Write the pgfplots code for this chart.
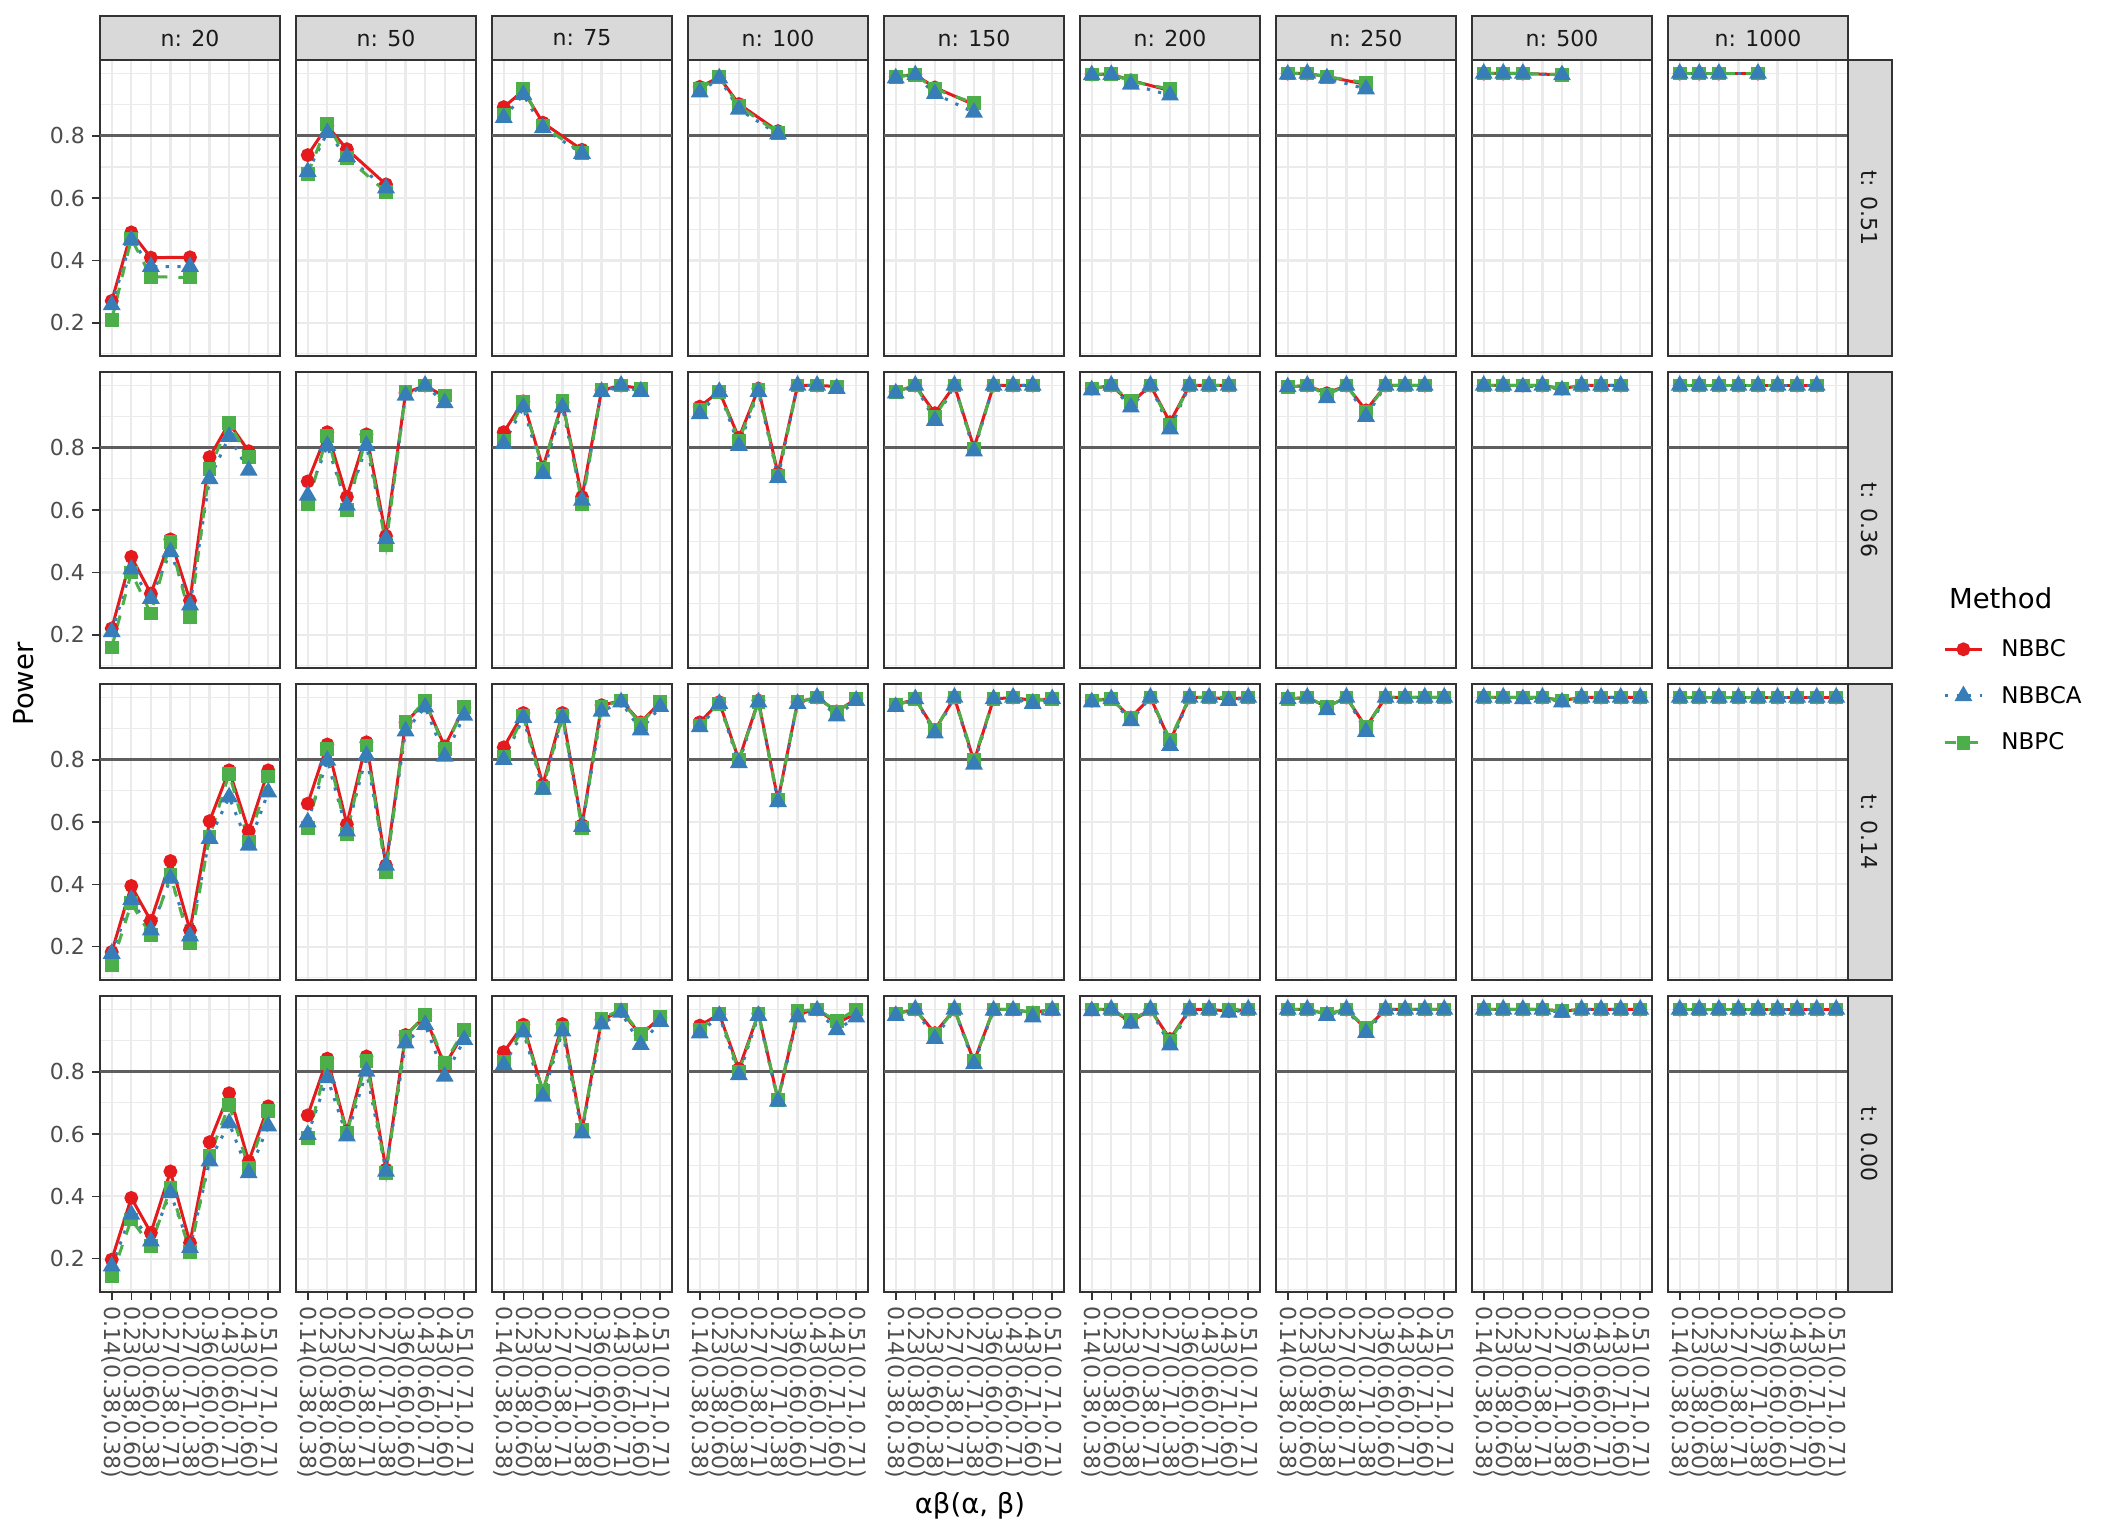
\documentclass[border=0pt]{standalone}
\usepackage{fontspec}
\setmainfont{DejaVu Sans}
\usepackage{pgfplots}
\usepackage{pgfplotstable}
\pgfplotsset{compat=1.18}
\usepgfplotslibrary{groupplots}

\definecolor{cA}{HTML}{E41A1C}
\definecolor{cB}{HTML}{377EB8}
\definecolor{cC}{HTML}{4DAF4A}
\definecolor{gridc}{HTML}{EBEBEB}
\definecolor{gray20}{HTML}{333333}
\definecolor{gray30}{HTML}{4D4D4D}
\definecolor{gray10}{HTML}{1A1A1A}
\definecolor{stripc}{HTML}{D9D9D9}
\definecolor{hlc}{HTML}{5E5E5E}

% columns: x = design index, a = NBBC, b = NBBCA, c = NBPC
% row A: t = 0.51
\pgfplotstableread{
x a b c
1 0.270 0.257 0.209
2 0.490 0.466 0.470
3 0.409 0.380 0.348
5 0.410 0.380 0.345
}\tAa
\pgfplotstableread{
x a b c
1 0.738 0.685 0.677
2 0.832 0.810 0.837
3 0.757 0.733 0.730
5 0.644 0.632 0.620
}\tAb
\pgfplotstableread{
x a b c
1 0.892 0.858 0.868
2 0.945 0.932 0.952
3 0.842 0.825 0.832
5 0.755 0.743 0.745
}\tAc
\pgfplotstableread{
x a b c
1 0.957 0.940 0.950
2 0.988 0.985 0.990
3 0.902 0.885 0.895
5 0.815 0.805 0.810
}\tAd
\pgfplotstableread{
x a b c
1 0.990 0.985 0.990
2 0.996 0.995 0.996
3 0.955 0.935 0.950
5 0.900 0.875 0.905
}\tAe
\pgfplotstableread{
x a b c
1 0.997 0.995 0.997
2 0.998 0.996 0.999
3 0.978 0.965 0.975
5 0.945 0.930 0.950
}\tAf
\pgfplotstableread{
x a b c
1 1.000 0.997 1.000
2 1.000 1.000 1.000
3 0.990 0.985 0.990
5 0.965 0.950 0.970
}\tAg
\pgfplotstableread{
x a b c
1 1.000 1.000 1.000
2 1.000 1.000 1.000
3 1.000 1.000 1.000
5 0.996 0.995 0.996
}\tAh
\pgfplotstableread{
x a b c
1 1.000 1.000 1.000
2 1.000 1.000 1.000
3 1.000 1.000 1.000
5 1.000 1.000 1.000
}\tAi
% row B: t = 0.36
\pgfplotstableread{
x a b c
1 0.220 0.209 0.159
2 0.450 0.410 0.400
3 0.332 0.316 0.268
4 0.506 0.466 0.497
5 0.310 0.295 0.257
6 0.770 0.700 0.733
7 0.879 0.836 0.879
8 0.789 0.727 0.770
}\tBa
\pgfplotstableread{
x a b c
1 0.692 0.647 0.620
2 0.850 0.807 0.839
3 0.642 0.615 0.600
4 0.843 0.807 0.836
5 0.517 0.508 0.487
6 0.976 0.968 0.978
7 1.000 1.000 1.000
8 0.964 0.944 0.968
}\tBb
\pgfplotstableread{
x a b c
1 0.850 0.813 0.823
2 0.949 0.930 0.946
3 0.736 0.717 0.733
4 0.946 0.930 0.950
5 0.642 0.631 0.620
6 0.985 0.980 0.985
7 1.000 1.000 1.000
8 0.990 0.980 0.990
}\tBc
\pgfplotstableread{
x a b c
1 0.932 0.909 0.920
2 0.981 0.980 0.980
3 0.832 0.807 0.823
4 0.990 0.980 0.985
5 0.717 0.704 0.710
6 1.000 1.000 1.000
7 1.000 1.000 1.000
8 0.997 0.990 0.997
}\tBd
\pgfplotstableread{
x a b c
1 0.980 0.975 0.980
2 1.000 1.000 1.000
3 0.911 0.887 0.900
4 1.000 1.000 1.000
5 0.800 0.789 0.795
6 1.000 1.000 1.000
7 1.000 1.000 1.000
8 1.000 1.000 1.000
}\tBe
\pgfplotstableread{
x a b c
1 0.990 0.985 0.990
2 1.000 1.000 1.000
3 0.943 0.930 0.950
4 1.000 1.000 1.000
5 0.882 0.860 0.875
6 1.000 1.000 1.000
7 1.000 1.000 1.000
8 1.000 1.000 1.000
}\tBf
\pgfplotstableread{
x a b c
1 0.995 0.995 0.995
2 1.000 1.000 1.000
3 0.975 0.960 0.970
4 1.000 1.000 1.000
5 0.920 0.900 0.915
6 1.000 1.000 1.000
7 1.000 1.000 1.000
8 1.000 1.000 1.000
}\tBg
\pgfplotstableread{
x a b c
1 1.000 1.000 1.000
2 1.000 1.000 1.000
3 1.000 0.995 1.000
4 1.000 1.000 1.000
5 0.990 0.985 0.990
6 1.000 1.000 1.000
7 1.000 1.000 1.000
8 1.000 1.000 1.000
}\tBh
\pgfplotstableread{
x a b c
1 1.000 1.000 1.000
2 1.000 1.000 1.000
3 1.000 1.000 1.000
4 1.000 1.000 1.000
5 1.000 1.000 1.000
6 1.000 1.000 1.000
7 1.000 1.000 1.000
8 1.000 1.000 1.000
}\tBi
% row C: t = 0.14
\pgfplotstableread{
x a b c
1 0.183 0.178 0.141
2 0.395 0.351 0.339
3 0.283 0.253 0.237
4 0.475 0.419 0.429
5 0.253 0.234 0.212
6 0.603 0.547 0.552
7 0.766 0.680 0.755
8 0.571 0.525 0.536
9 0.766 0.696 0.746
}\tCa
\pgfplotstableread{
x a b c
1 0.659 0.600 0.582
2 0.849 0.798 0.835
3 0.593 0.571 0.563
4 0.856 0.814 0.846
5 0.461 0.461 0.440
6 0.920 0.892 0.920
7 0.985 0.969 0.990
8 0.843 0.811 0.835
9 0.967 0.942 0.970
}\tCb
\pgfplotstableread{
x a b c
1 0.840 0.800 0.810
2 0.950 0.935 0.940
3 0.720 0.705 0.710
4 0.950 0.935 0.940
5 0.590 0.585 0.580
6 0.975 0.955 0.970
7 0.990 0.985 0.990
8 0.920 0.895 0.915
9 0.985 0.970 0.985
}\tCc
\pgfplotstableread{
x a b c
1 0.920 0.905 0.910
2 0.985 0.980 0.980
3 0.800 0.790 0.800
4 0.990 0.985 0.985
5 0.670 0.665 0.670
6 0.985 0.980 0.985
7 1.000 1.000 1.000
8 0.955 0.940 0.955
9 0.995 0.990 0.995
}\tCd
\pgfplotstableread{
x a b c
1 0.975 0.970 0.975
2 0.995 0.995 0.995
3 0.895 0.885 0.895
4 1.000 1.000 1.000
5 0.795 0.785 0.800
6 0.995 0.995 0.995
7 1.000 1.000 1.000
8 0.990 0.980 0.990
9 0.995 0.995 0.995
}\tCe
\pgfplotstableread{
x a b c
1 0.990 0.985 0.990
2 0.995 0.995 0.995
3 0.935 0.925 0.935
4 1.000 1.000 1.000
5 0.860 0.845 0.865
6 1.000 1.000 1.000
7 1.000 1.000 1.000
8 0.995 0.990 1.000
9 1.000 1.000 1.000
}\tCf
\pgfplotstableread{
x a b c
1 0.995 0.995 0.995
2 1.000 1.000 1.000
3 0.970 0.960 0.970
4 1.000 1.000 1.000
5 0.905 0.890 0.905
6 1.000 1.000 1.000
7 1.000 1.000 1.000
8 1.000 1.000 1.000
9 1.000 1.000 1.000
}\tCg
\pgfplotstableread{
x a b c
1 1.000 1.000 1.000
2 1.000 1.000 1.000
3 1.000 0.995 1.000
4 1.000 1.000 1.000
5 0.990 0.985 0.990
6 1.000 1.000 1.000
7 1.000 1.000 1.000
8 1.000 1.000 1.000
9 1.000 1.000 1.000
}\tCh
\pgfplotstableread{
x a b c
1 1.000 1.000 1.000
2 1.000 1.000 1.000
3 1.000 1.000 1.000
4 1.000 1.000 1.000
5 1.000 1.000 1.000
6 1.000 1.000 1.000
7 1.000 1.000 1.000
8 1.000 1.000 1.000
9 1.000 1.000 1.000
}\tCi
% row D: t = 0.00
\pgfplotstableread{
x a b c
1 0.197 0.176 0.144
2 0.395 0.342 0.326
3 0.283 0.256 0.240
4 0.480 0.411 0.427
5 0.251 0.235 0.222
6 0.574 0.513 0.529
7 0.731 0.635 0.694
8 0.512 0.475 0.491
9 0.689 0.625 0.673
}\tDa
\pgfplotstableread{
x a b c
1 0.660 0.598 0.587
2 0.842 0.780 0.828
3 0.609 0.593 0.603
4 0.849 0.801 0.835
5 0.486 0.480 0.475
6 0.918 0.892 0.913
7 0.977 0.951 0.983
8 0.820 0.785 0.828
9 0.927 0.903 0.934
}\tDb
\pgfplotstableread{
x a b c
1 0.863 0.822 0.833
2 0.951 0.927 0.940
3 0.737 0.721 0.737
4 0.953 0.930 0.940
5 0.614 0.603 0.614
6 0.967 0.953 0.970
7 0.995 0.990 1.000
8 0.918 0.887 0.920
9 0.974 0.961 0.977
}\tDc
\pgfplotstableread{
x a b c
1 0.948 0.924 0.935
2 0.985 0.980 0.987
3 0.809 0.790 0.800
4 0.987 0.980 0.987
5 0.710 0.705 0.710
6 0.985 0.975 0.995
7 1.000 0.997 1.000
8 0.956 0.934 0.963
9 0.987 0.975 1.000
}\tDd
\pgfplotstableread{
x a b c
1 0.987 0.980 0.985
2 1.000 1.000 1.000
3 0.924 0.906 0.920
4 1.000 1.000 1.000
5 0.833 0.825 0.835
6 1.000 0.997 1.000
7 1.000 0.997 1.000
8 0.990 0.975 0.990
9 1.000 0.997 1.000
}\tDe
\pgfplotstableread{
x a b c
1 1.000 0.995 1.000
2 1.000 1.000 1.000
3 0.960 0.955 0.965
4 1.000 1.000 1.000
5 0.905 0.885 0.900
6 1.000 1.000 1.000
7 1.000 1.000 1.000
8 0.995 0.990 1.000
9 1.000 1.000 1.000
}\tDf
\pgfplotstableread{
x a b c
1 1.000 1.000 1.000
2 1.000 1.000 1.000
3 0.985 0.980 0.985
4 1.000 1.000 1.000
5 0.937 0.925 0.940
6 1.000 1.000 1.000
7 1.000 1.000 1.000
8 1.000 1.000 1.000
9 1.000 1.000 1.000
}\tDg
\pgfplotstableread{
x a b c
1 1.000 1.000 1.000
2 1.000 1.000 1.000
3 1.000 1.000 1.000
4 1.000 1.000 1.000
5 0.995 0.990 0.995
6 1.000 1.000 1.000
7 1.000 1.000 1.000
8 1.000 1.000 1.000
9 1.000 1.000 1.000
}\tDh
\pgfplotstableread{
x a b c
1 1.000 1.000 1.000
2 1.000 1.000 1.000
3 1.000 1.000 1.000
4 1.000 1.000 1.000
5 1.000 1.000 1.000
6 1.000 1.000 1.000
7 1.000 1.000 1.000
8 1.000 1.000 1.000
9 1.000 1.000 1.000
}\tDi

\pgfplotsset{
  s1/.style={color=cA, line width=1.5pt, mark=*, mark size=2.7pt, mark options={solid}},
  s2/.style={color=cB, line width=1.5pt, dash pattern=on 1.6pt off 4.2pt, mark=triangle*, mark size=3.7pt, mark options={solid}},
  s3/.style={color=cC, line width=1.5pt, dash pattern=on 5.5pt off 5.5pt, mark=square*, mark size=2.7pt, mark options={solid}},
  bot/.style={xtick style={draw=gray20}},
  lft/.style={ytick style={draw=gray20}},
}

% one panel: reference line, the three lines, then the three sets of points
\newcommand{\three}[1]{%
  \addplot[forget plot, hlc, line width=1.3pt] coordinates {(0.4,0.8) (9.6,0.8)};
  \addplot[forget plot, s1, no marks] table[x=x, y=a] {#1};
  \addplot[forget plot, s2, no marks] table[x=x, y=b] {#1};
  \addplot[forget plot, s3, no marks] table[x=x, y=c] {#1};
  \addplot[forget plot, s1, only marks] table[x=x, y=a] {#1};
  \addplot[forget plot, s3, only marks] table[x=x, y=c] {#1};
  \addplot[forget plot, s2, only marks] table[x=x, y=b] {#1};
}
\newcommand{\nstrip}[1]{%
  \draw[fill=stripc, draw=gray20, line width=0.8pt] (rel axis cs:0,1) rectangle ([yshift=22pt]rel axis cs:1,1);
  \node[text=gray10, font=\fontsize{11}{13}\selectfont] at ([yshift=11pt]rel axis cs:0.5,1) {#1};
}
\newcommand{\tstrip}[1]{%
  \draw[fill=stripc, draw=gray20, line width=0.8pt] (rel axis cs:1,0) rectangle ([xshift=22pt]rel axis cs:1,1);
  \node[text=gray10, rotate=-90, font=\fontsize{11}{13}\selectfont] at ([xshift=11pt]rel axis cs:1,0.5) {#1};
}

\begin{document}
\begin{tikzpicture}
\begin{groupplot}[
  group style={group size=9 by 4, horizontal sep=8pt, vertical sep=8pt,
    xticklabels at=edge bottom, yticklabels at=edge left, group name=G},
  scale only axis, width=90pt, height=148pt,
  xmin=0.4, xmax=9.6, ymin=0.0933, ymax=1.0433,
  xtick={1,...,9},
  xticklabels={{0.14(0.38,0.38)},{0.23(0.38,0.60)},{0.23(0.60,0.38)},{0.27(0.38,0.71)},{0.27(0.71,0.38)},{0.36(0.60,0.60)},{0.43(0.60,0.71)},{0.43(0.71,0.60)},{0.51(0.71,0.71)}},
  ytick={0.2,0.4,0.6,0.8}, yticklabels={0.2,0.4,0.6,0.8},
  minor ytick={0.1,0.3,0.5,0.7,0.9,1.0},
  grid=both,
  major grid style={gridc, line width=1.1pt},
  minor grid style={gridc, line width=0.55pt},
  axis line style={draw=gray20, line width=0.8pt},
  tick align=outside, tick pos=left, major tick length=4pt, minor tick length=0pt,
  xtick style={draw=none, line width=0.8pt}, ytick style={draw=none, line width=0.8pt},
  tick label style={font=\fontsize{11}{13}\selectfont, text=gray30},
  xticklabel style={rotate=-90, anchor=west},
  legend image code/.code={\draw[mark repeat=2, mark phase=2, #1] plot coordinates {(0pt,0pt) (9.25pt,0pt) (18.5pt,0pt)};},
  clip=false,
]
% row t = 0.51
\nextgroupplot[lft] \three{\tAa} \nstrip{n: 20}
\nextgroupplot \three{\tAb} \nstrip{n: 50}
\nextgroupplot \three{\tAc} \nstrip{n: 75}
\nextgroupplot \three{\tAd} \nstrip{n: 100}
\nextgroupplot \three{\tAe} \nstrip{n: 150}
\nextgroupplot \three{\tAf} \nstrip{n: 200}
\nextgroupplot \three{\tAg} \nstrip{n: 250}
\nextgroupplot \three{\tAh} \nstrip{n: 500}
\nextgroupplot \three{\tAi} \nstrip{n: 1000} \tstrip{t: 0.51}
% row t = 0.36
\nextgroupplot[lft] \three{\tBa}
\nextgroupplot \three{\tBb}
\nextgroupplot \three{\tBc}
\nextgroupplot \three{\tBd}
\nextgroupplot \three{\tBe}
\nextgroupplot \three{\tBf}
\nextgroupplot \three{\tBg}
\nextgroupplot \three{\tBh}
\nextgroupplot[legend cell align=left,
  legend style={at={(rel axis cs:1.528,0.105)}, anchor=north west, draw=none, fill=none,
    inner sep=0pt, row sep=11.3pt, column sep=8pt,
    font=\fontsize{11.5}{13}\selectfont, nodes={inner sep=1pt}}]
  \three{\tBi} \tstrip{t: 0.36}
  \addlegendimage{s1} \addlegendentry{NBBC}
  \addlegendimage{s2} \addlegendentry{NBBCA}
  \addlegendimage{s3} \addlegendentry{NBPC}
% row t = 0.14
\nextgroupplot[lft] \three{\tCa}
\nextgroupplot \three{\tCb}
\nextgroupplot \three{\tCc}
\nextgroupplot \three{\tCd}
\nextgroupplot \three{\tCe}
\nextgroupplot \three{\tCf}
\nextgroupplot \three{\tCg}
\nextgroupplot \three{\tCh}
\nextgroupplot \three{\tCi} \tstrip{t: 0.14}
% row t = 0.00
\nextgroupplot[lft,bot] \three{\tDa}
\nextgroupplot[bot] \three{\tDb}
\nextgroupplot[bot] \three{\tDc}
\nextgroupplot[bot] \three{\tDd}
\nextgroupplot[bot] \three{\tDe}
\nextgroupplot[bot] \three{\tDf}
\nextgroupplot[bot] \three{\tDg}
\nextgroupplot[bot] \three{\tDh}
\nextgroupplot[bot] \three{\tDi} \tstrip{t: 0.00}
\end{groupplot}
\node[rotate=90, font=\fontsize{13.75}{16}\selectfont] at ([shift={(-38pt,-312pt)}]G c1r1.north west) {Power};
\node[font=\fontsize{13.75}{16}\selectfont] at ([shift={(435pt,-723pt)}]G c1r1.north west) {αβ(α, β)};
\node[anchor=base west, font=\fontsize{13.75}{16}\selectfont] at ([shift={(137pt,-118.5pt)}]G c9r2.north west) {Method};
\path ([shift={(-50pt,30pt)}]G c1r1.north west) rectangle ([shift={(1006pt,-738pt)}]G c1r1.north west);
\end{tikzpicture}
\end{document}
